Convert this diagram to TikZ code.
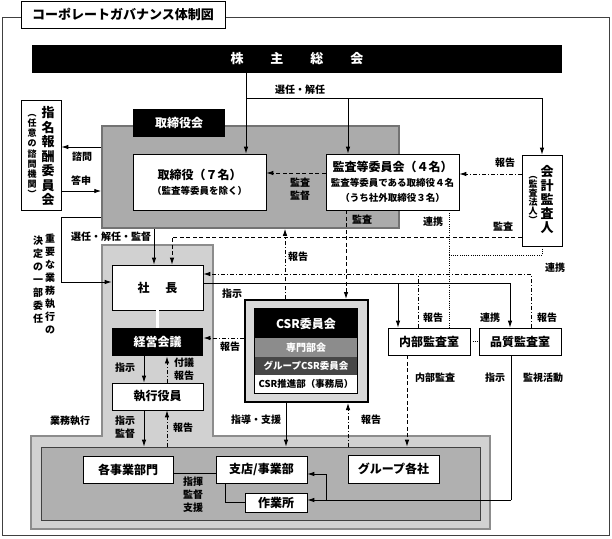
\documentclass[tikz,border=0pt]{standalone}
\usepackage{fontspec}
\setmainfont{Noto Sans CJK JP}
\usetikzlibrary{arrows.meta,calc}

\tikzset{
  box/.style={draw, fill=white, line width=0.6pt, inner sep=0pt, align=center, font=\fontsize{12}{15}\selectfont\bfseries},
  blk/.style={fill=black, text=white, inner sep=0pt, align=center, font=\fontsize{12}{15}\selectfont\bfseries},
  lbl/.style={inner sep=0pt, align=center, font=\fontsize{10}{13}\selectfont\bfseries},
  vbig/.style={inner sep=0pt, align=center, font=\fontsize{13}{14.5}\selectfont\bfseries},
  vsmall/.style={inner sep=0pt, align=center, font=\fontsize{9}{10.2}\selectfont\bfseries},
  arr/.style={-{Latex[length=7pt,width=4.5pt]}},
  rep/.style={dash pattern=on 4pt off 2pt on 1pt off 2pt},
  aud/.style={dash pattern=on 4pt off 2.5pt},
  coop/.style={dash pattern=on 1pt off 1.2pt},
}

\begin{document}
\begin{tikzpicture}[x=1pt, y=-1pt, line width=0.9pt]
\useasboundingbox (0,0) rectangle (612,538);

% frame and title
\draw[line width=0.7pt, black!75] (2,17) rectangle (609,535);
\node[box, font=\fontsize{13}{15}\selectfont\bfseries, minimum width=204pt, minimum height=27pt] (title) at (123,14.5) {コーポレートガバナンス体制図};

% shareholders
\node[blk, font=\fontsize{13}{15}\selectfont\bfseries, minimum width=530pt, minimum height=28pt] (sh) at (297,59) {株\hspace{27pt}主\hspace{27pt}総\hspace{27pt}会};

% board of directors
\node[fill=black!33, draw=black!55, line width=1.5pt, minimum width=297pt, minimum height=102pt, inner sep=0pt] (board) at (250.5,177) {};
\node[blk, minimum width=92pt, minimum height=28pt] (boardtab) at (179,123) {取締役会};
\node[box, minimum width=133pt, minimum height=56pt] (dir) at (199.5,182) {取締役（７名）\\{\fontsize{9.5}{13}\selectfont （監査等委員を除く）}};
\node[box, minimum width=133pt, minimum height=56pt] (acomm) at (392.5,182) {監査等委員会（４名）\\{\fontsize{9.5}{14}\selectfont 監査等委員である取締役４名}\\{\fontsize{9.5}{14}\selectfont （うち社外取締役３名）}};

% accounting auditor
\node[box, minimum width=40pt, minimum height=91pt] (auditor) at (542,200.5) {};
\node[vbig, font=\fontsize{13}{14}\selectfont\bfseries] (auditorA) at (547,200) {会\\計\\監\\査\\人};
\node[vsmall, font=\fontsize{9}{9}\selectfont\bfseries] (auditorB) at (533,199.5) {︵\\監\\査\\法\\人\\︶};

% nomination and remuneration committee
\node[box, minimum width=40pt, minimum height=110pt] (nomc) at (41,155) {};
\node[vbig] (nomcA) at (48,156.5) {指\\名\\報\\酬\\委\\員\\会};
\node[vsmall] (nomcB) at (32,156) {︵\\任\\意\\の\\諮\\問\\機\\関\\︶};

% business execution
\draw[fill=black!18, draw=black!45, line width=1.5pt] (102,245) -- (213,245) -- (213,436) -- (490,436) -- (490,529) -- (31,529) -- (31,436) -- (102,436) -- cycle;
\node[fill=black!31, draw=black!75, line width=0.6pt, minimum width=439pt, minimum height=73pt, inner sep=0pt] (biz) at (260.5,483.5) {};
\node[box, minimum width=91pt, minimum height=45pt] (pres) at (157.5,287.5) {社\hspace{16pt}長};
\node[blk, minimum width=91pt, minimum height=28pt] (mgmt) at (157.5,342) {経営会議};
\node[box, minimum width=91pt, minimum height=27pt] (offc) at (157.5,396.5) {執行役員};

% CSR committee
\node[fill=black!15, draw=black, line width=2pt, minimum width=123pt, minimum height=102pt, inner sep=0pt] (csrout) at (306.5,351) {};
\node[blk, minimum width=102pt, minimum height=29pt] (csr) at (306,323.5) {CSR委員会};
\node[blk, fill=black!45, font=\fontsize{10}{12}\selectfont\bfseries, minimum width=102pt, minimum height=19pt] (spec) at (306,347.5) {専門部会};
\node[blk, fill=black!72, font=\fontsize{9.5}{12}\selectfont\bfseries, minimum width=102pt, minimum height=18pt] (grp) at (306,366) {グループCSR委員会};
\node[box, draw=none, font=\fontsize{9.5}{11}\selectfont\bfseries, minimum width=102pt, minimum height=18pt] (prom) at (306,384) {CSR推進部（事務局）};
\draw[line width=0.6pt] (csr.north west) rectangle (prom.south east);

% audit offices
\node[box, minimum width=82pt, minimum height=27pt] (iaud) at (429,341.5) {内部監査室};
\node[box, minimum width=82pt, minimum height=27pt] (qaud) at (520,341.5) {品質監査室};

% divisions
\node[box, minimum width=90pt, minimum height=27pt] (divs) at (128,469.5) {各事業部門};
\node[box, minimum width=91pt, minimum height=27pt] (branch) at (261.5,469.5) {支店/事業部};
\node[box, minimum width=62pt, minimum height=19pt] (site) at (276,502.5) {作業所};
\node[box, minimum width=91pt, minimum height=28pt] (grpco) at (393.5,469) {グループ各社};

% junctions
\coordinate (sel) at (246,98);
\coordinate (dlg) at (61,217);
\coordinate (aud1) at (172,237);
\coordinate (rep1) at (418,274);
\coordinate (ins) at (398,283);
\coordinate (coop1) at (449,255);
\coordinate (qa1) at (511,500);
\coordinate (qa2) at (326,500);

% election and dismissal
\draw (sh.south -| sel) -- (sel) -- (sel -| auditor.north);
\draw[arr] (sel) -- (dir.north -| sel);
\draw[arr] (sel -| 348,0) -- (acomm.north -| 348,0);
\draw[arr] (sel -| auditor.north) -- (auditor.north);
\node[lbl] (lsel) at (300,90) {選任・解任};

% consultation
\draw[arr] (board.west |- 0,147) -- (nomc.east |- 0,147);
\draw[arr] (nomc.east |- 0,191) -- (board.west |- 0,191);
\node[lbl] (lcons) at (82,157) {諮問};
\node[lbl] (lansw) at (81,181) {答申};

% audits and reports
\draw[aud, arr] (acomm.west |- 0,173) -- (dir.east |- 0,173);
\node[lbl] (lsup) at (300,189) {監査\\監督};
\draw[rep, arr] (auditor.west |- 0,174) -- (acomm.east |- 0,174);
\node[lbl] (lrep1) at (505,163) {報告};
\draw[aud, arr] (auditor.west |- aud1) -- (aud1) -- (pres.north -| aud1);
\node[lbl] (laud1) at (503,227) {監査};
\draw[aud, arr] (acomm.south -| 346,0) -- (csrout.north -| 346,0);
\node[lbl] (laud2) at (362,220) {監査};
\draw[rep, arr] (csrout.north -| 285,0) -- (board.south -| 285,0);
\node[lbl] (lrep2) at (298,257) {報告};

% cooperation
\draw[coop] (acomm.south -| coop1) -- (iaud.north -| coop1);
\draw[coop] (auditor.south) |- (coop1);
\draw[coop] (iaud) -- (qaud);
\node[lbl] (lcoop1) at (433,222) {連携};
\node[lbl] (lcoop2) at (555,268) {連携};
\node[lbl] (lcoop3) at (490,318) {連携};

% delegation
\draw[arr] (board.west |- dlg) -- (dlg) |- (pres.west |- 0,282);
\node[lbl] (ldlg1) at (50,283.5) {重\\要\\な\\業\\務\\執\\行\\の};
\node[lbl] (ldlg2) at (38,280) {決\\定\\の\\一\\部\\委\\任};
\draw[arr] (board.south -| 154,0) -- (pres.north -| 154,0);
\node[lbl] (lappt) at (111,237) {選任・解任・監督};

% president and audit offices
\draw[arr] (pres.east |- ins) -| (qaud.north -| 510,0);
\draw[arr] (ins) -- (iaud.north -| ins);
\node[lbl] (linst1) at (232,294) {指示};
\draw[rep, arr] (qaud.north -| 531,0) |- (pres.east |- rep1);
\draw[rep] (iaud.north -| rep1) -- (rep1);
\node[lbl] (lrep3) at (433,318) {報告};
\node[lbl] (lrep4) at (547,318) {報告};

% management meeting and officers
\draw[double, double distance=2.5pt, line width=0.7pt] (pres.south) -- (mgmt.north);
\draw[rep, arr] (csrout.west |- 0,338) -- (mgmt.east |- 0,338);
\node[lbl] (lrep5) at (230,347) {報告};
\draw[arr] (mgmt.south -| 144,0) -- (offc.north -| 144,0);
\node[lbl] (linst2) at (125,368) {指示};
\draw[rep, arr] (offc.north -| 167,0) -- (mgmt.south -| 167,0);
\node[lbl] (lprop) at (184,369) {付議\\報告};
\draw[arr] (offc.south -| 144,0) -- (biz.north -| 144,0);
\node[lbl] (linst3) at (125,427) {指示\\監督};
\draw[rep, arr] (biz.north -| 167,0) -- (offc.south -| 167,0);
\node[lbl] (lrep6) at (183,428) {報告};
\node[lbl] (lexec) at (70,421) {業務執行};

% CSR guidance
\draw[arr] (csrout.south -| 286,0) -- (biz.north -| 286,0);
\node[lbl] (lguid) at (256,420) {指導・支援};
\draw[rep, arr] (biz.north -| 348,0) -- (csrout.south -| 348,0);
\node[lbl] (lrep7) at (371,420) {報告};

% internal and quality audit
\draw[aud, arr] (iaud.south -| 407,0) -- (biz.north -| 407,0);
\node[lbl] (liaud) at (435,378) {内部監査};
\draw (qaud.south -| qa1) -- (qa1);
\draw[arr] (qa1) -- (site.east |- qa1);
\draw[arr] (qa2) |- (branch.east |- 0,474);
\node[lbl] (linst4) at (495,378) {指示};
\node[lbl] (lmon) at (543,378) {監視活動};

% divisions and branches
\draw[line width=0.7pt] (divs.east |- 0,473) -- (branch.west |- 0,473);
\draw[line width=0.7pt] (branch.south -| 225,0) |- (site.west);
\node[lbl] (lcmd) at (193,495) {指揮\\監督\\支援};

\end{tikzpicture}
\end{document}
